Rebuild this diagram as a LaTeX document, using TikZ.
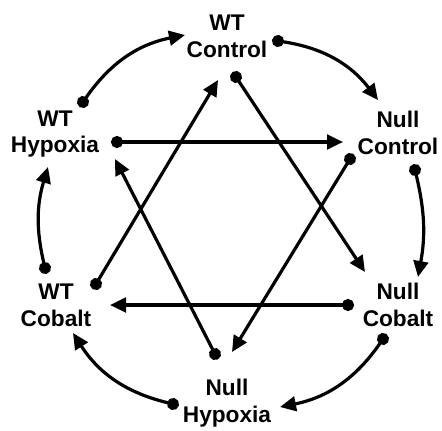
\documentclass[tikz,border=0pt]{standalone}
\usepackage{fontspec}
\setsansfont{Liberation Sans}
\usepackage{tikz}
\usetikzlibrary{arrows.meta,calc}

\begin{document}
\begin{tikzpicture}[x=0.75pt,y=0.75pt,
  lbl/.style={font=\sffamily\bfseries\fontsize{17}{20}\selectfont,align=center,inner sep=0pt},
  link/.style={line width=2.4pt,{Circle[length=9pt,sep=-4.5pt]}-{Triangle[length=12pt,width=11pt]}}]
  % six conditions on a ring: arcs outside, a star of swaps inside
  \useasboundingbox (0,0) rectangle (442,430);
  \node[lbl] (wctrl) at (227,394) {WT\\Control};
  \node[lbl] (whyp) at (55,296) {WT\\Hypoxia};
  \node[lbl] (nctrl) at (398,297) {Null\\Control};
  \node[lbl] (wcob) at (56,125) {WT\\Cobalt};
  \node[lbl] (ncob) at (398,125) {Null\\Cobalt};
  \node[lbl] (nhyp) at (227,27) {Null\\Hypoxia};

  \draw[link] ($(whyp)+(28,32)$) to[bend left=22] ($(wctrl)+(-42,1)$);
  \draw[link] ($(wctrl)+(51,-5)$) to[bend left=22] ($(nctrl)+(-20,33)$);
  \draw[link] ($(nctrl)+(17,-37)$) to[bend left=12] ($(ncob)+(20,28)$);
  \draw[link] ($(ncob)+(-15,-34)$) to[bend left=22] ($(nhyp)+(53,-4)$);
  \draw[link] ($(nhyp)+(-54,-1)$) to[bend left=22] ($(wcob)+(17,-28)$);
  \draw[link] ($(wcob)+(-11,37)$) to[bend left=15] ($(whyp)+(-7,-33)$);

  \draw[link] ($(whyp)+(62,-8)$) -- ($(nctrl)+(-55,-9)$);
  \draw[link] ($(wctrl)+(9,-41)$) -- ($(ncob)+(-33,33)$);
  \draw[link] ($(nctrl)+(-48,-26)$) -- ($(nhyp)+(5,51)$);
  \draw[link] ($(ncob)+(-50,0)$) -- ($(wcob)+(54,0)$);
  \draw[link] ($(nhyp)+(-12,49)$) -- ($(whyp)+(60,-25)$);
  \draw[link] ($(wcob)+(40,21)$) -- ($(wctrl)+(-9,-44)$);
\end{tikzpicture}
\end{document}
